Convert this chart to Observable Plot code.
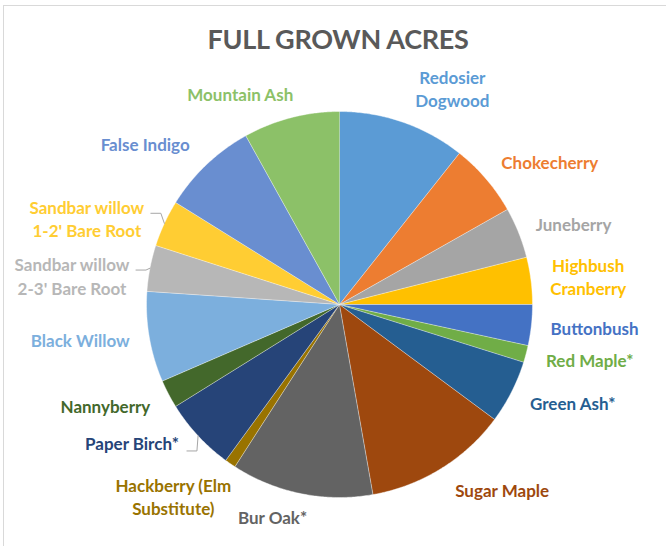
<!DOCTYPE html>
<html>
<head>
<meta charset="utf-8">
<script src="https://cdn.jsdelivr.net/npm/d3@7"></script>
<script src="https://cdn.jsdelivr.net/npm/@observablehq/plot@0.6"></script>
<style>
  html, body { margin: 0; padding: 0; background: #fff; overflow: hidden; }
  #wrap { position: relative; width: 666px; height: 546px; overflow: hidden; }
  #frame { position: absolute; left: 3px; top: 5px; width: 700px; height: 600px; border: 1px solid #D9D9D9; box-sizing: border-box; }
  #title { position: absolute; left: 0; top: 22px; width: 676px; text-align: center;
           font: bold 27px Lato, "Open Sans", sans-serif; color: #595959; letter-spacing: -0.3px; }
  #chart { position: absolute; left: 0; top: 0; }
</style>
</head>
<body>
<div id="wrap">
  <div id="frame"></div>
  <div id="chart"></div>
  <div id="title">FULL GROWN ACRES</div>
</div>
<script>
// ---- data (clockwise from 12 o'clock) ----
const names = [
  "Redosier Dogwood", "Chokecherry", "Juneberry", "Highbush Cranberry", "Buttonbush",
  "Red Maple*", "Green Ash*", "Sugar Maple", "Bur Oak*", "Hackberry (Elm Substitute)",
  "Paper Birch*", "Nannyberry", "Black Willow", "Sandbar willow 2-3' Bare Root",
  "Sandbar willow 1-2' Bare Root", "False Indigo", "Mountain Ash"
];
const shares = [10.67, 6.13, 4.26, 3.94, 3.42, 1.42, 5.31, 12.08, 11.89, 0.92,
                6.11, 2.36, 7.58, 3.86, 3.92, 8.07, 8.07];
const labelLines = [
  "Redosier\nDogwood", "Chokecherry", "Juneberry", "Highbush\nCranberry", "Buttonbush",
  "Red Maple*", "Green Ash*", "Sugar Maple", "Bur Oak*", "Hackberry (Elm\nSubstitute)",
  "Paper Birch*", "Nannyberry", "Black Willow", "Sandbar willow\n2-3' Bare Root",
  "Sandbar willow\n1-2' Bare Root", "False Indigo", "Mountain Ash"
];

// ---- styles / layout (kept apart from data) ----
const colors = ["#5B9BD5", "#ED7D31", "#A5A5A5", "#FFC000", "#4472C4", "#70AD47", "#255E91",
  "#9E480E", "#636363", "#997300", "#264478", "#43682B", "#7CAFDD", "#B7B7B7", "#FFCD33",
  "#698ED0", "#8CC168"];
const labelNudge = [[43,-14],[49,-3],[37,0],[38,0],[44,2],[45,3],[44,4],[51,7],[-25,6],
  [-46,19],[-52,-4],[-46,5],[-50,1],[-59,13],[-60,5],[-48,-5],[-46,-3]];
const leaders = {10: [55, 6], 13: [64, -7.5], 14: [64, -7]};

const R = 193;
const W = 666, H = 546;
const cx = 339, cy = 304;

const arcs = d3.pie().sort(null).value(d => d).startAngle(0).endAngle(2 * Math.PI)(shares);

const slicePts = [];
arcs.forEach((a, i) => {
  slicePts.push({x: 0, y: 0, k: names[i], c: colors[i]});
  const n = Math.max(2, Math.ceil((a.endAngle - a.startAngle) / (Math.PI / 360)));
  for (let j = 0; j <= n; j++) {
    const t = a.startAngle + (a.endAngle - a.startAngle) * j / n;
    slicePts.push({x: R * Math.sin(t), y: R * Math.cos(t), k: names[i], c: colors[i]});
  }
});
const discPts = d3.range(0, 361, 2).map(d => ({x: R * Math.sin(d * Math.PI / 180), y: R * Math.cos(d * Math.PI / 180)}));

const labels = arcs.map((a, i) => {
  const m = (a.startAngle + a.endAngle) / 2;
  const ax = 1.1 * R * Math.sin(m), ay = 1.1 * R * Math.cos(m);
  return {x: ax + labelNudge[i][0], y: ay - labelNudge[i][1], text: labelLines[i], c: colors[i], m};
});

const leaderPts = [];
Object.entries(leaders).forEach(([k, off]) => {
  const L = labels[+k];
  const sx = L.x + off[0], sy = L.y - off[1];
  leaderPts.push({x: sx, y: sy, k});
  leaderPts.push({x: sx + 10, y: sy, k});
  leaderPts.push({x: R * Math.sin(L.m), y: R * Math.cos(L.m), k});
});

const chart = Plot.plot({
  width: W, height: H, margin: 0,
  x: {domain: [-cx, W - cx], axis: null},
  y: {domain: [cy - H, cy], axis: null},
  color: {type: "identity"},
  style: {background: "transparent"},
  marks: [
    Plot.line(discPts, {x: "x", y: "y", fill: "#000", fillOpacity: 0.35, stroke: "none", ariaLabel: "shadow"}),
    Plot.line(slicePts, {x: "x", y: "y", z: "k", fill: "c", stroke: "white",
      strokeWidth: 0.6, strokeOpacity: 0.7}),
    Plot.line(leaderPts, {x: "x", y: "y", z: "k", stroke: "#A6A6A6", strokeWidth: 1}),
    Plot.text(labels, {x: "x", y: "y", text: "text", fill: "c", fontSize: 17, dy: -2,
      fontWeight: "bold", fontFamily: "Lato, 'Open Sans', sans-serif",
      lineHeight: 1.36, textAnchor: "middle", lineAnchor: "middle"})
  ]
});
// soften the disc behind the pie into a shadow
const sh = chart.querySelector('g[aria-label="shadow"]');
if (sh) {
  const ns = "http://www.w3.org/2000/svg";
  const defs = document.createElementNS(ns, "defs");
  const f = document.createElementNS(ns, "filter");
  f.setAttribute("id", "pieblur");
  f.setAttribute("x", "-20%"); f.setAttribute("y", "-20%");
  f.setAttribute("width", "140%"); f.setAttribute("height", "140%");
  const b = document.createElementNS(ns, "feGaussianBlur");
  b.setAttribute("stdDeviation", "3");
  f.appendChild(b); defs.appendChild(f); chart.insertBefore(defs, chart.firstChild);
  sh.setAttribute("filter", "url(#pieblur)");
}
document.getElementById("chart").appendChild(chart);
</script>
</body>
</html>
